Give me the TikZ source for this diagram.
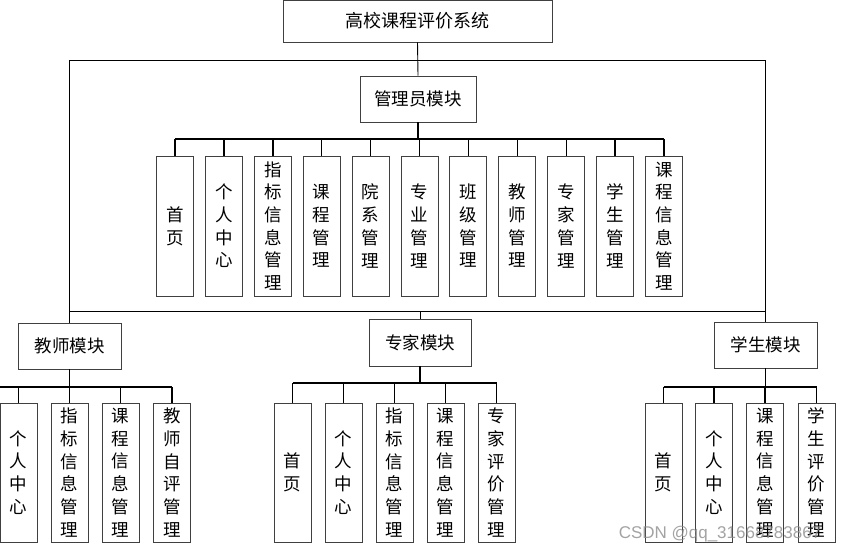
\documentclass[tikz,border=0pt]{standalone}
\usepackage{fontspec}
\newfontfamily\cjk{Noto Sans CJK SC}
\setsansfont{Liberation Sans}
\begin{document}
\begin{tikzpicture}[x=1pt,y=-1pt,
  box/.style={draw=black!75,line width=0.9pt,fill=white,inner sep=0pt,font=\cjk\fontsize{17.5}{22}\selectfont},
  leaf/.style={box,minimum width=37pt,minimum height=140pt,align=center,font=\cjk\fontsize{17.5}{22.7}\selectfont},
  frame/.style={draw=black,line width=0.9pt},
  bus/.style={draw=black,line width=1.4pt}]
\useasboundingbox (0,0) rectangle (842,554);
% top
\node[box,minimum width=269pt,minimum height=42pt,font=\cjk\fontsize{18}{22}\selectfont] (top) at (417.5,21) {高校课程评价系统};
\node[box,minimum width=116pt,minimum height=46pt] (admin) at (418,99) {管理员模块};
\node[box,minimum width=103pt,minimum height=46pt] (teach) at (69.5,346) {教师模块};
\node[box,minimum width=102pt,minimum height=47pt] (expert) at (420,342.5) {专家模块};
\node[box,minimum width=103pt,minimum height=46pt] (stud) at (765.5,345) {学生模块};
% frame
\coordinate (ftl) at (69.5,60);
\coordinate (ftr) at (765.5,60);
\coordinate (fbl) at (69.5,311);
\coordinate (fbr) at (765.5,311);
\draw[frame] (teach.north) -- (ftl) -- (ftr) -- (stud.north);
\draw[frame] (fbl) -- (fbr);
\draw[frame] (expert.north) -- (expert.north |- fbl);
\draw[frame] (top.south) -- (admin.north);
% admin leaves
\foreach \t [count=\i from 0] in {首\\页,个\\人\\中\\心,指\\标\\信\\息\\管\\理,课\\程\\管\\理,院\\系\\管\\理,专\\业\\管\\理,班\\级\\管\\理,教\\师\\管\\理,专\\家\\管\\理,学\\生\\管\\理,课\\程\\信\\息\\管\\理}{
  \node[leaf] (a\i) at ({175+48.9*\i},226) {\t};
}
\coordinate (abus) at (418,139);
\draw[bus] (admin.south) -- (abus);
\draw[bus] (a0.north |- abus) -- (a10.north |- abus);
\foreach \i in {0,...,10}{\draw[bus] (a\i.north) -- (a\i.north |- abus);}
% teacher leaves
\foreach \t/\x [count=\i from 0] in {个\\人\\中\\心/18.5,指\\标\\信\\息\\管\\理/69.5,课\\程\\信\\息\\管\\理/120.5,教\\师\\自\\评\\管\\理/172}{
  \node[leaf,minimum height=139pt] (t\i) at (\x,472.5) {\t};
}
\coordinate (tbus) at (0,387);
\draw[bus] (teach.south) -- (teach.south |- tbus);
\draw[bus] (tbus) -- (t3.north |- tbus);
\foreach \i in {0,...,3}{\draw[bus] (t\i.north) -- (t\i.north |- tbus);}
% expert leaves
\foreach \t/\x [count=\i from 0] in {首\\页/292.5,个\\人\\中\\心/343.5,指\\标\\信\\息\\管\\理/394.5,课\\程\\信\\息\\管\\理/445.5,专\\家\\评\\价\\管\\理/496.5}{
  \node[leaf,minimum height=139pt] (e\i) at (\x,472.5) {\t};
}
\coordinate (ebus) at (420,383);
\draw[bus] (expert.south) -- (ebus);
\draw[bus] (e0.north |- ebus) -- (e4.north |- ebus);
\foreach \i in {0,...,4}{\draw[bus] (e\i.north) -- (e\i.north |- ebus);}
% student leaves
\foreach \t/\x [count=\i from 0] in {首\\页/663.5,个\\人\\中\\心/714,课\\程\\信\\息\\管\\理/765,学\\生\\评\\价\\管\\理/816.5}{
  \node[leaf,minimum height=139pt] (s\i) at (\x,472.5) {\t};
}
\coordinate (sbus) at (765.5,387);
\draw[bus] (stud.south) -- (sbus);
\draw[bus] (s0.north |- sbus) -- (s3.north |- sbus);
\foreach \i in {0,...,3}{\draw[bus] (s\i.north) -- (s\i.north |- sbus);}
% watermark
\node[text=black!45,font=\sffamily\fontsize{17}{19}\selectfont,opacity=0.8] (wm) at (720,534) {CSDN @qq\_31668783867};
\end{tikzpicture}
\end{document}
